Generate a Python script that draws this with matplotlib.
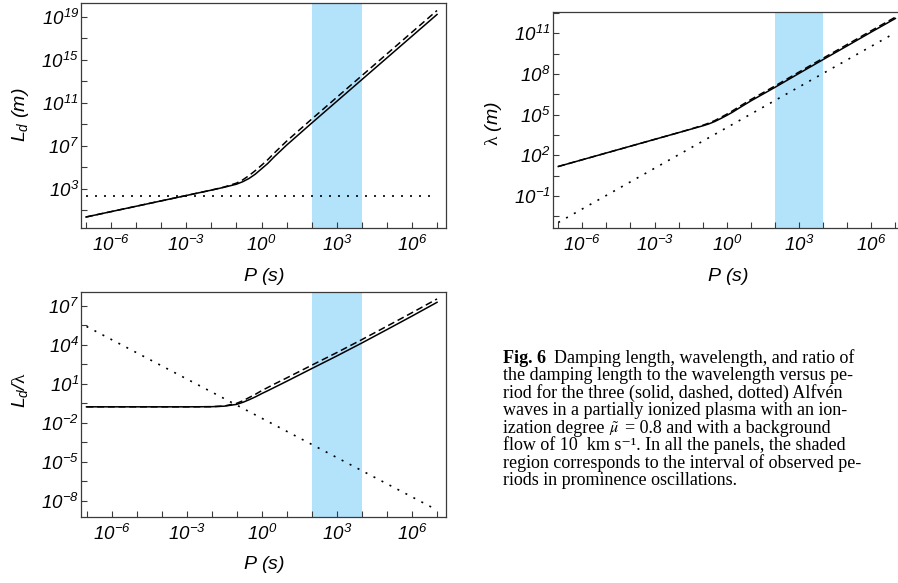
import numpy as np
import matplotlib
matplotlib.use("Agg")
import matplotlib.pyplot as plt
from matplotlib.ticker import FixedLocator, NullFormatter

# ---- data (log10 values) ----
log_period = [-7, -5, -3, -2, -1.5, -1, -0.75, -0.5, -0.25, 0, 0.25, 0.5, 1, 2, 3, 4, 5, 6, 7]

# damping length L_d (m)
ld_solid = [0.37, 1.37, 2.37, 2.87, 3.13, 3.42, 3.65, 3.95, 4.35, 4.85, 5.35, 5.95, 7.05, 9.1, 11.12, 13.14, 15.16, 17.18, 19.2]
ld_dashed = [0.37, 1.37, 2.37, 2.87, 3.15, 3.52, 3.82, 4.22, 4.68, 5.18, 5.7, 6.3, 7.42, 9.47, 11.49, 13.51, 15.53, 17.55, 19.57]
ld_dotted = [2.32, 2.32]

# wavelength lambda (m)
wl_solid = [1.18, 2.18, 3.18, 3.68, 3.93, 4.18, 4.32, 4.5, 4.72, 4.95, 5.2, 5.48, 6.02, 7.02, 8.05, 9.07, 10.08, 11.1, 12.1]
wl_dashed = [1.18, 2.18, 3.18, 3.68, 3.94, 4.22, 4.38, 4.57, 4.8, 5.04, 5.3, 5.58, 6.12, 7.12, 8.15, 9.17, 10.18, 11.2, 12.2]
wl_dotted = [-2.95, 11.05]

# ratio L_d / lambda
ratio_solid = [-0.77, -0.77, -0.77, -0.76, -0.72, -0.58, -0.42, -0.22, 0.0, 0.25, 0.48, 0.72, 1.2, 2.18, 3.15, 4.15, 5.18, 6.22, 7.28]
ratio_dashed = [-0.77, -0.77, -0.77, -0.76, -0.71, -0.5, -0.3, -0.05, 0.2, 0.48, 0.73, 0.98, 1.46, 2.44, 3.41, 4.41, 5.44, 6.48, 7.54]
ratio_dotted = [5.42, -8.72]

dotted_period = [-7, 7]
shade_period = [2, 4]

# caption: each printed line is a list of (text, bold, math) pieces
caption_lines = [
    [("Fig. 6", True, False), ("Damping length, wavelength, and ratio of", False, False)],
    [("the damping length to the wavelength versus pe-", False, False)],
    [("riod for the three (solid, dashed, dotted) Alfvén", False, False)],
    [("waves in a partially ionized plasma with an ion-", False, False)],
    [("ization degree", False, False), (r"$\tilde{\mu}$", False, True),
     ("= 0.8 and with a background", False, False)],
    [("flow of 10  km s\u207b\u00b9. In all the panels, the shaded", False, False)],
    [("region corresponds to the interval of observed pe-", False, False)],
    [("riods in prominence oscillations.", False, False)],
]

plt.rcParams["mathtext.fontset"] = "custom"
plt.rcParams["mathtext.rm"] = "Liberation Sans:italic"
plt.rcParams["mathtext.it"] = "Liberation Sans:italic"
plt.rcParams["mathtext.sf"] = "Liberation Serif"
plt.rcParams["font.family"] = "Liberation Sans"

FRAME = "#3a3a3a"
SHADE = "#b3e2fb"
TICKSIZE = 13.5
LABELSIZE = 14
SERIF = ["Liberation Serif", "DejaVu Serif"]
CAP_SIZE = 13


def p(v):
    return 10.0 ** np.asarray(v, dtype=float)


def style_axes(ax, xlim, ylim, ylab_ticks, yminor_ticks):
    ax.set_xscale("log")
    ax.set_yscale("log")
    ax.set_xlim(10 ** xlim[0], 10 ** xlim[1])
    ax.set_ylim(10 ** ylim[0], 10 ** ylim[1])
    ax.axvspan(10 ** shade_period[0], 10 ** shade_period[1], color=SHADE, lw=0, zorder=0)

    ax.xaxis.set_major_locator(FixedLocator([10.0 ** k for k in (-6, -3, 0, 3, 6)]))
    ax.xaxis.set_minor_locator(FixedLocator([10.0 ** k for k in range(-7, 8)]))
    ax.set_xticklabels([r"$10^{%d}$" % k for k in (-6, -3, 0, 3, 6)])
    ax.yaxis.set_major_locator(FixedLocator([10.0 ** k for k in ylab_ticks]))
    ax.yaxis.set_minor_locator(FixedLocator([10.0 ** k for k in yminor_ticks]))
    ax.set_yticklabels([r"$10^{%d}$" % k for k in ylab_ticks])
    ax.xaxis.set_minor_formatter(NullFormatter())
    ax.yaxis.set_minor_formatter(NullFormatter())

    ax.tick_params(which="both", direction="in", length=4, width=0.8, color=FRAME,
                   top=False, right=False, labelsize=TICKSIZE)
    ax.tick_params(axis="x", which="both", pad=5)
    ax.tick_params(axis="y", which="both", pad=1.5)
    for s in ax.spines.values():
        s.set_color(FRAME)
        s.set_linewidth(0.9)


def draw(ax, solid, dashed, dotted):
    ax.plot(p(log_period), p(solid), color="black", lw=1.1, zorder=3)
    ax.plot(p(log_period), p(dashed), color="black", lw=1.1, ls=(0, (4.5, 2.5)), zorder=3)
    ax.plot(p(dotted_period), p(dotted), color="black", lw=1.2, ls=(0, (1.2, 4.2)), zorder=3)


def place_labels(ax, xlab, ylab, xpos, ypos):
    ax.set_xlabel(xlab, fontsize=LABELSIZE)
    ax.set_ylabel(ylab, fontsize=LABELSIZE)
    ax.xaxis.set_label_coords(*xpos)
    ax.xaxis.label.set_va("center")
    ax.yaxis.set_label_coords(*ypos)
    ax.yaxis.label.set_va("center")


fig = plt.figure(figsize=(8.98, 5.83), dpi=100)

# top left: damping length
ax1 = fig.add_axes([0.0902, 0.6084, 0.4065, 0.3865])
draw(ax1, ld_solid, ld_dashed, ld_dotted)
style_axes(ax1, (-7.2, 7.36), (-0.68, 20.27), [3, 7, 11, 15, 19], [1, 5, 9, 13, 17])
place_labels(ax1, r"$P\ (s)$", r"$L_d\ (m)$", (0.5, -0.215), (-0.167, 0.503))

# top right: wavelength (runs past the right edge)
ax2 = fig.add_axes([0.6155, 0.6084, 0.3912, 0.3715])
draw(ax2, wl_solid, wl_dashed, wl_dotted)
style_axes(ax2, (-7.23, 7.36), (-3.38, 12.6), [-1, 2, 5, 8, 11], [-2.5, 0.5, 3.5, 6.5, 9.5, 12.5])
place_labels(ax2, r"$P\ (s)$", r"$\mathsf{\lambda}\ (m)$", (0.499, -0.223), (-0.169, 0.485))

# bottom left: ratio
ax3 = fig.add_axes([0.0902, 0.1127, 0.4065, 0.387])
draw(ax3, ratio_solid, ratio_dashed, ratio_dotted)
style_axes(ax3, (-7.22, 7.36), (-9.28, 8.1), [-8, -5, -2, 1, 4, 7], [-6.5, -3.5, -0.5, 2.5, 5.5])
place_labels(ax3, r"$P\ (s)$", r"$L_d/\mathsf{\lambda}$", (0.5, -0.211), (-0.167, 0.564))

# caption, cut off by the right edge like the source page
for i, pieces in enumerate(caption_lines):
    yb = 1 - (362.7 + 17.5 * i) / 583
    prev = None
    for j, (txt, bold, math) in enumerate(pieces):
        kw = dict(family=SERIF, fontsize=CAP_SIZE, va="baseline", ha="left",
                  weight="bold" if bold else "normal")
        if math:
            kw["math_fontfamily"] = "stix"
            kw["fontsize"] = CAP_SIZE - 1.5
        if prev is None:
            prev = fig.text(503 / 898, yb, txt, **kw)
        else:
            gap = 6 if pieces[0][1] and j == 1 else 3.3
            prev = ax3.annotate(txt, xy=(1, yb), xycoords=(prev, "figure fraction"),
                                xytext=(gap, 0), textcoords="offset points",
                                annotation_clip=False, **kw)

fig.savefig("out.png", dpi=100)
